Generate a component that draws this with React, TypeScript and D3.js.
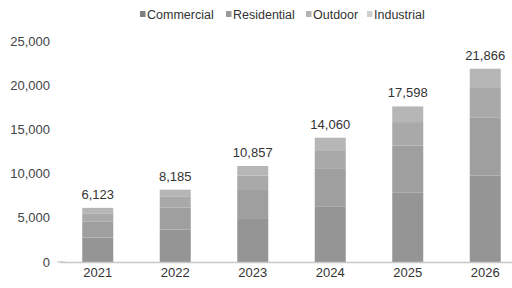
import * as d3 from "d3";
import React from "react";

const years = ["2021", "2022", "2023", "2024", "2025", "2026"];
const seriesNames = ["Commercial", "Residential", "Outdoor", "Industrial"];
// segment values read as estimates, stacked from the bottom
const commercial = [2760, 3680, 4870, 6300, 7880, 9790];
const residential = [1840, 2460, 3270, 4230, 5290, 6580];
const outdoor = [910, 1230, 1630, 2120, 2660, 3310];
const industrial = [613, 815, 1087, 1410, 1768, 2186];
const yTicks = [0, 5000, 10000, 15000, 20000, 25000];

const colors = ["#959595", "#9f9f9f", "#a9a9a9", "#b6b6b6"];
const legendColors = ["#808080", "#9a9a9a", "#b3b3b3", "#cfcfcf"];

const W = 512;
const H = 288;

export default function App() {
  const rows = years.map((y, i) => ({
    year: y,
    Commercial: commercial[i],
    Residential: residential[i],
    Outdoor: outdoor[i],
    Industrial: industrial[i],
  }));
  const stacked = d3.stack<any>().keys(seriesNames)(rows);

  const x = d3.scaleBand().domain(years).range([59, 524]).paddingInner(0.6).paddingOuter(0.3);
  const y = d3.scaleLinear().domain([0, 25000]).range([262, 41]);
  const fmt = d3.format(",");
  const font = "Liberation Sans, Arial, sans-serif";

  // legend layout (swatch x positions)
  const legendX = [140, 226, 306, 367];

  return (
    <svg width={W} height={H} style={{ position: "absolute", left: 0, top: 0, background: "#fff" }} fontFamily={font}>
      {/* legend */}
      {seriesNames.map((s, i) => (
        <g key={s} transform={`translate(${legendX[i]},14)`}>
          <rect x={0} y={-3} width={5.5} height={6} fill={legendColors[i]} />
          <text x={7} y={4.5} fontSize={12.5} fill="#333">{s}</text>
        </g>
      ))}

      {/* y axis labels */}
      {yTicks.map(t => (
        <text key={t} x={50} y={y(t) + 4.5} textAnchor="end" fontSize={13} fill="#444">
          {fmt(t)}
        </text>
      ))}
      <line x1={57} x2={65} y1={y(0)} y2={y(0)} stroke="#bbb" />

      {/* bars */}
      {stacked.map((layer, li) => (
        <g key={layer.key} fill={colors[li]}>
          {layer.map((d, i) => (
            <rect
              key={i}
              x={x(years[i])}
              y={y(d[1])}
              width={x.bandwidth()}
              height={y(d[0]) - y(d[1])}
            />
          ))}
        </g>
      ))}

      {/* x axis */}
      <line x1={60} x2={W} y1={y(0) + 0.5} y2={y(0) + 0.5} stroke="#c8c8c8" strokeWidth={1.5} />
      {years.map(yr => (
        <text key={yr} x={(x(yr) as number) + x.bandwidth() / 2} y={277} textAnchor="middle" fontSize={13} fill="#333">
          {yr}
        </text>
      ))}

      {/* totals */}
      {rows.map((r, i) => {
        const total = commercial[i] + residential[i] + outdoor[i] + industrial[i];
        return (
          <text key={r.year} x={(x(r.year) as number) + x.bandwidth() / 2} y={y(total) - 9} textAnchor="middle" fontSize={13} fill="#333">
            {fmt(total)}
          </text>
        );
      })}
    </svg>
  );
}
